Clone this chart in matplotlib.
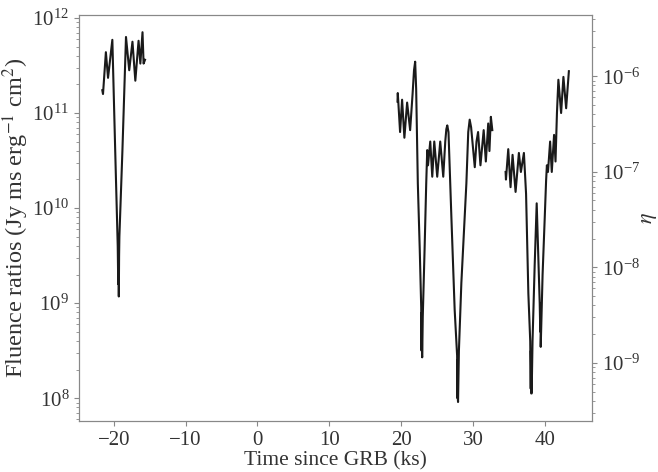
import numpy as np
import matplotlib.pyplot as plt

plt.rcParams['font.family'] = 'serif'
plt.rcParams['font.serif'] = ['Liberation Serif', 'DejaVu Serif']
plt.rcParams['mathtext.fontset'] = 'stix'

# log10 of fluence ratio (three observing windows)
t1 = [-21.6, -21.5, -21.1, -20.8, -20.2, -19.8, -19.45, -19.38, -19.34, -19.3,
      -19.26, -19.22, -18.8, -18.3, -17.85, -17.4, -17.0, -16.55, -16.3, -16.0,
      -15.85, -15.65]
logf1 = [11.24, 11.20, 11.64, 11.37, 11.77, 10.6, 9.6, 9.2, 9.55, 9.07,
         9.5, 9.7, 10.6, 11.80, 11.45, 11.75, 11.34, 11.76, 11.52, 11.85,
         11.52, 11.56]

t2 = [19.5, 19.54, 19.86, 20.14, 20.46, 20.84, 21.26, 21.6, 21.8, 21.96,
      22.1, 22.33, 22.6, 22.8, 22.85, 22.88, 22.92, 22.94, 23.02, 23.27,
      23.5, 23.64, 23.75, 24.06, 24.34, 24.62, 25.03, 25.45, 25.87, 26.15,
      26.3, 26.43, 26.6, 27.0, 27.46, 27.8, 27.85, 27.88, 27.91, 27.93,
      28.05, 28.39, 29.09, 29.35, 29.55, 29.75, 30.26, 30.5, 30.72, 31.05,
      31.5, 31.8, 32.13, 32.3, 32.5, 32.7]
logf2 = [11.12, 11.21, 10.80, 11.14, 10.74, 11.11, 10.82, 11.2, 11.45, 11.54,
         11.25, 10.26, 9.56, 8.96, 8.5, 8.9, 8.45, 8.43, 8.86, 9.56,
         10.26, 10.61, 10.45, 10.70, 10.33, 10.70, 10.33, 10.70, 10.33, 10.7,
         10.83, 10.87, 10.8, 9.91, 8.93, 8.45, 8.0, 8.4, 7.98, 7.96,
         8.5, 9.21, 10.26, 10.8, 10.93, 10.85, 10.43, 10.7, 10.80, 10.45,
         10.82, 10.49, 10.89, 10.6, 10.96, 10.82]

t3 = [34.55, 34.6, 34.92, 35.24, 35.52, 35.94, 36.4, 36.68, 37.1, 37.4,
      37.72, 37.98, 38.05, 38.08, 38.12, 38.18, 38.3, 38.6, 38.88, 39.1,
      39.3, 39.38, 39.4, 39.44, 39.7, 40.0, 40.19, 40.3, 40.45, 40.75,
      40.98, 41.3, 41.5, 41.7, 41.9, 42.28, 42.6, 42.98, 43.36]
logf3 = [10.38, 10.30, 10.62, 10.22, 10.56, 10.17, 10.58, 10.38, 10.58, 10.15,
         9.10, 8.6, 8.1, 8.5, 8.05, 8.05, 8.6, 9.4, 10.05, 9.5,
         9.0, 8.7, 9.0, 8.54, 9.3, 9.9, 10.29, 10.45, 10.38, 10.70,
         10.38, 10.77, 10.49, 11.0, 11.35, 11.0, 11.38, 11.05, 11.44]

fig = plt.figure(figsize=(6.58, 4.72), dpi=100)
ax = fig.add_axes([0.120, 0.108, 0.780, 0.860])

for t, lf in [(t1, logf1), (t2, logf2), (t3, logf3)]:
    ax.plot(t, 10 ** np.array(lf), color='#1a1a1a', lw=1.5)

ax.set_yscale('log')
ax.set_ylim(10 ** 7.76, 10 ** 12.03)
ax.set_xticks([-20, -10, 0, 10, 20, 30, 40])
ax.set_xlabel('Time since GRB (ks)', fontsize=15.5, color='#333333',
              labelpad=1)
ax.set_ylabel('Fluence ratios (Jy ms erg$^{-1}$ cm$^{2}$)', fontsize=17.5,
              color='#333333', labelpad=1)

ax2 = ax.twinx()
ax2.set_yscale('log')
ax2.set_ylim(10 ** -9.61, 10 ** -5.36)
ax2.set_ylabel(r'$\eta$', fontsize=16, color='#333333', labelpad=0)

for a in (ax, ax2):
    for s in a.spines.values():
        s.set_color('#888888')
    a.tick_params(which='both', colors='#888888', labelcolor='#333333',
                  labelsize=15)

fig.savefig('out.png', dpi=100)
